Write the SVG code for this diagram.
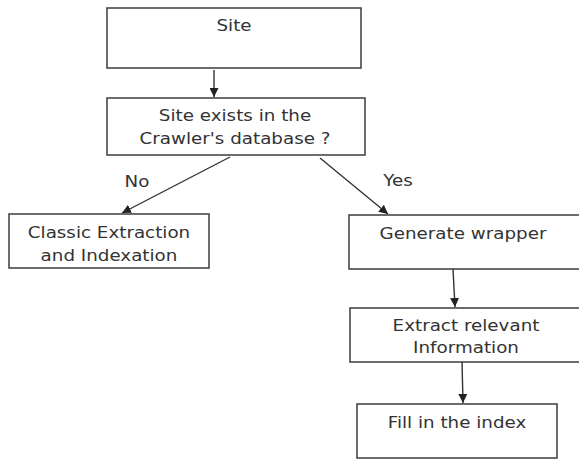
<svg xmlns="http://www.w3.org/2000/svg" width="579" height="460" viewBox="0 0 579 460">
<defs>
<marker id="ah" viewBox="0 0 10 10" refX="10" refY="5" markerWidth="9" markerHeight="9" markerUnits="userSpaceOnUse" orient="auto">
<path d="M0,0 L10,5 L0,10 z" fill="#222"/>
</marker>
</defs>
<style>
rect{fill:#fff;stroke:#3c3c3c;stroke-width:1.5}
text{font-family:"DejaVu Sans","Open Sans",sans-serif;font-size:15px;fill:#333;text-anchor:middle}
.c line{stroke:#333;stroke-width:1.4;marker-end:url(#ah)}
</style>
<rect x="0" y="0" width="579" height="460" style="stroke:none"/>
<g id="site"><rect x="107" y="8" width="254" height="60"/><text transform="translate(234 31) scale(1.22 1)">Site</text></g>
<g id="exists"><rect x="107" y="98" width="258" height="57"/><text transform="translate(235 121) scale(1.22 1)">Site exists in the</text><text transform="translate(235 144) scale(1.22 1)">Crawler's database ?</text></g>
<g id="classic"><rect x="9" y="214" width="200" height="54"/><text transform="translate(109 238) scale(1.22 1)">Classic Extraction</text><text transform="translate(109 261) scale(1.22 1)">and Indexation</text></g>
<g id="generate"><rect x="349" y="215" width="235" height="54"/><text transform="translate(463 239) scale(1.22 1)">Generate wrapper</text></g>
<g id="extract"><rect x="350" y="308" width="234" height="54"/><text transform="translate(466 331) scale(1.22 1)">Extract relevant</text><text transform="translate(466 353) scale(1.22 1)">Information</text></g>
<g id="fill"><rect x="357" y="404" width="200" height="54"/><text transform="translate(457 428) scale(1.22 1)">Fill in the index</text></g>
<g class="c">
<line x1="214" y1="70" x2="214" y2="97"/>
<line x1="230" y1="157" x2="122" y2="213"/>
<line x1="320" y1="158" x2="388" y2="214"/>
<line x1="453" y1="269" x2="455" y2="307"/>
<line x1="462" y1="362" x2="463" y2="403"/>
</g>
<text transform="translate(137 187) scale(1.22 1)">No</text>
<text transform="translate(398 186) scale(1.22 1)">Yes</text>
</svg>
